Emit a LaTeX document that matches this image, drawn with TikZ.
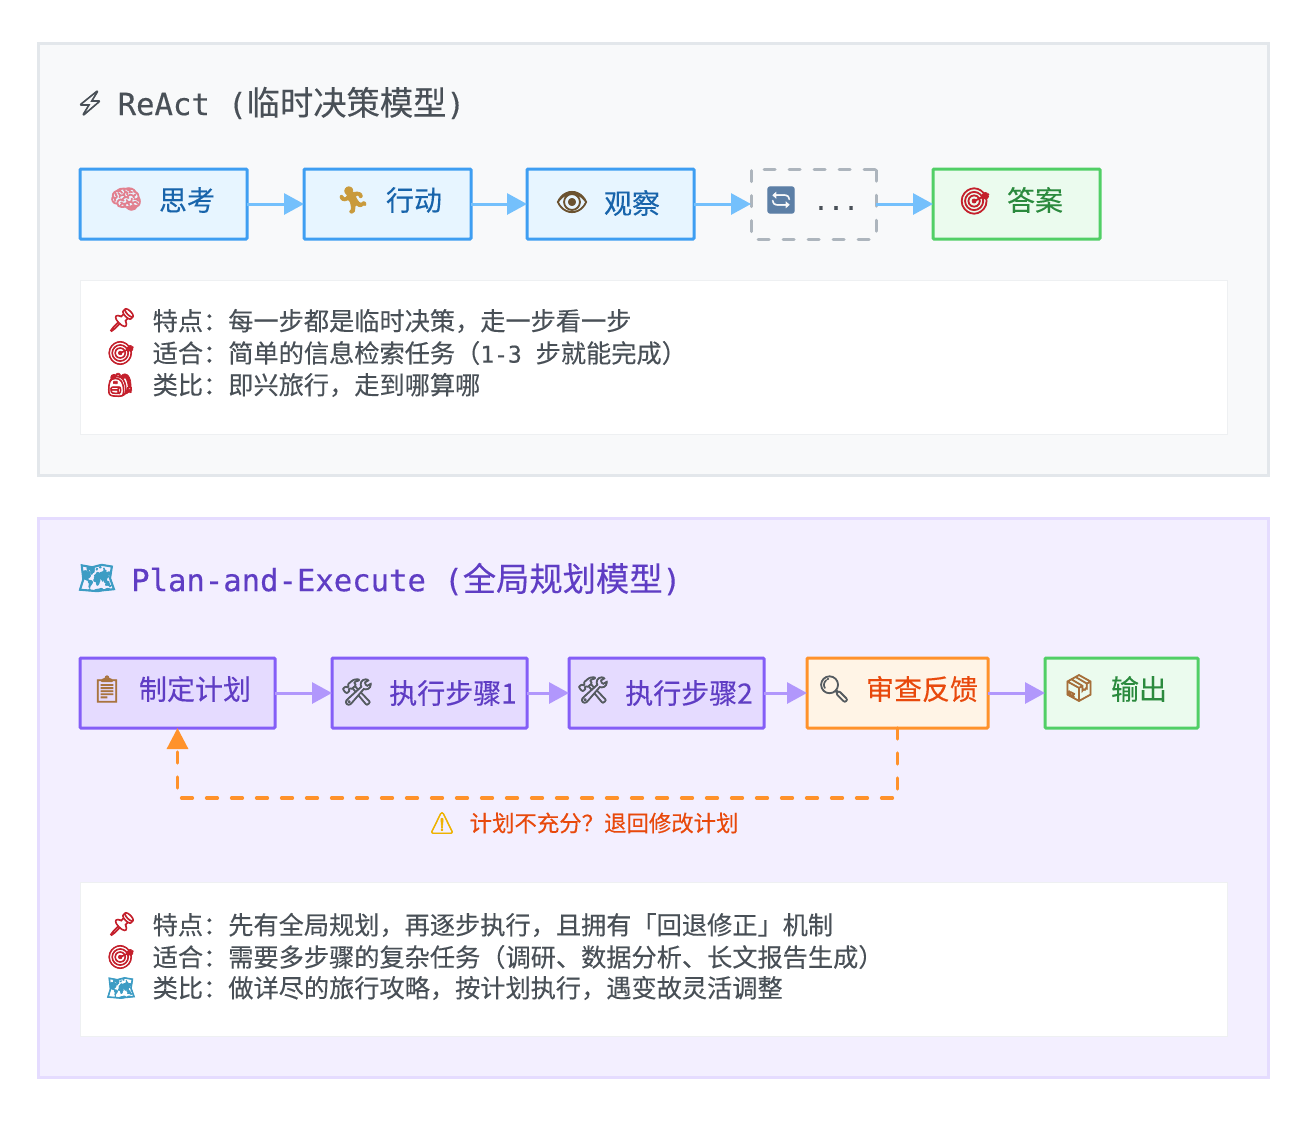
\documentclass[tikz,border=0pt]{standalone}
\usepackage{fontspec}
\usepackage{xcolor}
\usetikzlibrary{arrows.meta}
\newfontfamily\cjk[FakeBold=0.25]{Noto Sans CJK SC}
\newfontfamily\latinmono[FakeBold=0.4]{DejaVu Sans Mono}
\newfontfamily\emoji[FakeBold=3]{Noto Emoji}

% panels
\definecolor{reactfill}{HTML}{F8F9FA}
\definecolor{reactedge}{HTML}{E3E7EB}
\definecolor{planfill}{HTML}{F3EFFF}
\definecolor{planedge}{HTML}{E5DCFF}
\definecolor{infoedge}{HTML}{EEF0F2}
\definecolor{slate}{HTML}{495057}
% boxes
\definecolor{bluefill}{HTML}{E7F5FF}
\definecolor{blueedge}{HTML}{3E9EF2}
\definecolor{bluetext}{HTML}{1864AB}
\definecolor{greenfill}{HTML}{EBFBEE}
\definecolor{greenedge}{HTML}{51CF66}
\definecolor{greentext}{HTML}{2B8A3E}
\definecolor{purplefill}{HTML}{E5DBFF}
\definecolor{purpleedge}{HTML}{845EF7}
\definecolor{purpletext}{HTML}{5F3DC4}
\definecolor{orangefill}{HTML}{FFF4E6}
\definecolor{orangeedge}{HTML}{FF922B}
\definecolor{orangetext}{HTML}{E8490C}
\definecolor{grayedge}{HTML}{ADB5BD}
\definecolor{bluearrow}{HTML}{74C0FC}
\definecolor{purplearrow}{HTML}{B197FC}
% icons
\definecolor{brainpink}{HTML}{E2808F}
\definecolor{runnergold}{HTML}{C99A3C}
\definecolor{eyebrown}{HTML}{6B5230}
\definecolor{refreshblue}{HTML}{5C7FA6}
\definecolor{targetred}{HTML}{C4202C}
\definecolor{mapblue}{HTML}{3D9CC4}
\definecolor{boardbrown}{HTML}{A9743F}
\definecolor{toolgray}{HTML}{555B60}
\definecolor{boxbrown}{HTML}{A66F3A}
\definecolor{warnyellow}{HTML}{EDB200}

\tikzset{
  panel/.style 2 args={draw=#1,fill=#2,line width=3pt},
  infobox/.style={draw=infoedge,fill=white,line width=1pt},
  stepbox/.style 2 args={draw=#1,fill=#2,line width=3pt,rounded corners=1pt,
    minimum height=70pt,inner sep=0pt,outer sep=0pt},
  flow/.style={draw=#1,line width=3pt,-{Triangle[length=20pt,width=21pt]}},
  dashline/.style={draw=#1,line width=3.2pt,line cap=round,dash pattern=on 11pt off 14pt},
  icon/.style={inner sep=0pt,font=\emoji\fontsize{26}{26}\selectfont,text=#1},
  steplab/.style={inner sep=0pt,font=\cjk\fontsize{28}{28}\selectfont,text=#1},
  titlelab/.style={anchor=west,inner sep=0pt,font=\cjk\fontsize{33.3}{34}\selectfont,text=#1},
  infolab/.style={anchor=west,inner sep=0pt,font=\cjk\fontsize{25.2}{26}\selectfont,text=slate},
}

\begin{document}
\begin{tikzpicture}[x=1pt,y=-1pt]
\useasboundingbox (0,0) rectangle (1296,1120);

% react panel
\draw[panel={reactedge}{reactfill}] (38,43) rectangle (1268.5,475.5);
\node[icon=slate,font=\emoji\fontsize{24}{24}\selectfont] (reacticon) at (90,103) {⚡};
\node[titlelab=slate] (reacttitle) at (117.5,103) {{\latinmono\fontsize{30.6}{32}\selectfont ReAct (}临时决策模型{\latinmono\fontsize{30.6}{32}\selectfont )}};

% react steps
\node[stepbox={blueedge}{bluefill},minimum width=167pt] (think) at (163.5,204) {};
\node[stepbox={blueedge}{bluefill},minimum width=167pt] (act) at (387.5,204) {};
\node[stepbox={blueedge}{bluefill},minimum width=167pt] (observe) at (610.5,204) {};
\node[stepbox={grayedge}{reactfill},minimum width=125pt,line cap=round,dash pattern=on 11pt off 14pt] (loop) at (813.5,204) {};
\node[stepbox={greenedge}{greenfill},minimum width=167pt] (answer) at (1016.5,204) {};

\node[icon=brainpink] (thinkicon) at (126,199) {🧠};
\node[steplab=bluetext] (thinklab) at (187,200) {思考};
\node[icon=runnergold] (acticon) at (353,200) {🏃};
\node[steplab=bluetext] (actlab) at (414,200) {行动};
\node[icon=eyebrown] (observeicon) at (572,202) {👁};
\node[steplab=bluetext] (observelab) at (632,203) {观察};
\node[icon=refreshblue] (loopicon) at (781,200) {🔄};
\node[inner sep=0pt,text=slate,font=\latinmono\fontsize{25}{25}\selectfont] (looplab) at (836,208) {...};
\node[icon=targetred] (answericon) at (975,201) {🎯};
\node[steplab=greentext] (answerlab) at (1035,200) {答案};

\draw[flow=bluearrow] (think) -- (act);
\draw[flow=bluearrow] (act) -- (observe);
\draw[flow=bluearrow] (observe) -- (loop);
\draw[flow=bluearrow] (loop) -- (answer);

% react notes
\draw[infobox] (80,280) rectangle (1227,434);
\node[icon=targetred,font=\emoji\fontsize{23}{23}\selectfont] (reactpin) at (122,320) {📌};
\node[icon=targetred,font=\emoji\fontsize{23}{23}\selectfont] (reactaim) at (121,353) {🎯};
\node[icon=targetred,font=\emoji\fontsize{23}{23}\selectfont] (reactbag) at (120,385) {🎒};
\node[infolab] (reactone) at (152.5,321) {特点：每一步都是临时决策，走一步看一步};
\node[infolab] (reacttwo) at (152.5,353) {适合：简单的信息检索任务（{\latinmono\fontsize{23}{25}\selectfont 1-3 }步就能完成）};
\node[infolab] (reactthree) at (152.5,385) {类比：即兴旅行，走到哪算哪};

% plan panel
\draw[panel={planedge}{planfill}] (38,518) rectangle (1268.5,1077);
\node[icon=mapblue,font=\emoji\fontsize{30}{30}\selectfont] (planicon) at (97,578) {🗺};
\node[titlelab=purpletext] (plantitle) at (131,579) {{\latinmono\fontsize{30.6}{32}\selectfont Plan-and-Execute (}全局规划模型{\latinmono\fontsize{30.6}{32}\selectfont )}};

% plan steps
\node[stepbox={purpleedge}{purplefill},minimum width=195pt] (plan) at (177.5,693) {};
\node[stepbox={purpleedge}{purplefill},minimum width=195pt] (stepone) at (429.5,693) {};
\node[stepbox={purpleedge}{purplefill},minimum width=195pt] (steptwo) at (666.5,693) {};
\node[stepbox={orangeedge}{orangefill},minimum width=181pt] (review) at (897.5,693) {};
\node[stepbox={greenedge}{greenfill},minimum width=153pt] (output) at (1121.5,693) {};

\node[icon=boardbrown] (planboard) at (107,689) {📋};
\node[steplab=purpletext] (planlab) at (195,689) {制定计划};
\node[icon=toolgray] (steponeicon) at (357,692) {🛠};
\node[steplab=purpletext] (steponelab) at (453,693) {执行步骤1};
\node[icon=toolgray] (steptwoicon) at (593,690) {🛠};
\node[steplab=purpletext] (steptwolab) at (689,693) {执行步骤2};
\node[icon=toolgray] (reviewicon) at (834,689) {🔍};
\node[steplab=orangetext] (reviewlab) at (922,689) {审查反馈};
\node[icon=boxbrown] (outputicon) at (1079,688) {📦};
\node[steplab=greentext] (outputlab) at (1139,689) {输出};

\draw[flow=purplearrow] (plan) -- (stepone);
\draw[flow=purplearrow] (stepone) -- (steptwo);
\draw[flow=purplearrow] (steptwo) -- (review);
\draw[flow=purplearrow] (review) -- (output);

% way back
\draw[dashline=orangeedge,-{Triangle[length=21pt,width=21pt]}] (review.south) -- ++(0,70) -| (plan.south);
\node[icon=warnyellow,font=\emoji\fontsize{21}{21}\selectfont] (warnicon) at (442,823) {⚠};
\node[anchor=west,inner sep=0pt,text=orangetext,font=\cjk\fontsize{22.4}{24}\selectfont] (warnlab) at (469.5,823) {计划不充分？退回修改计划};

% plan notes
\draw[infobox] (80,882) rectangle (1227,1036);
\node[icon=targetred,font=\emoji\fontsize{23}{23}\selectfont] (planpin) at (122,924) {📌};
\node[icon=targetred,font=\emoji\fontsize{23}{23}\selectfont] (planaim) at (121,957) {🎯};
\node[icon=mapblue,font=\emoji\fontsize{23}{23}\selectfont] (planmap) at (121,988) {🗺};
\node[infolab] (planone) at (152.5,925) {特点：先有全局规划，再逐步执行，且拥有「回退修正」机制};
\node[infolab] (plantwo) at (152.5,957) {适合：需要多步骤的复杂任务（调研、数据分析、长文报告生成）};
\node[infolab] (planthree) at (152.5,988) {类比：做详尽的旅行攻略，按计划执行，遇变故灵活调整};
\end{tikzpicture}
\end{document}
